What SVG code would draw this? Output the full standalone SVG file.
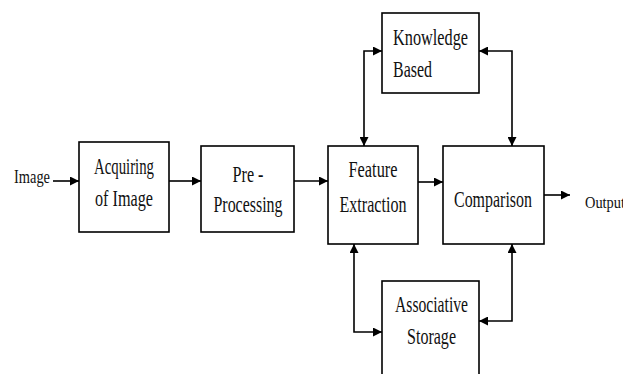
<svg xmlns="http://www.w3.org/2000/svg" width="623" height="374" viewBox="0 0 623 374">
<defs>
<style>
.box{fill:#fff;stroke:#000;stroke-width:1.6}
.lbl{font-family:"Liberation Serif","Times New Roman",serif;font-size:23px;fill:#111;text-anchor:middle}
.sm{font-family:"Liberation Serif","Times New Roman",serif;fill:#111}
.con{fill:none;stroke:#000;stroke-width:1.6;marker-end:url(#ah)}
.bi{marker-start:url(#ah)}
</style>
<marker id="ah" viewBox="0 0 10 10" refX="10" refY="5" markerWidth="9" markerHeight="9" markerUnits="userSpaceOnUse" orient="auto-start-reverse">
<path d="M0,0 L10,5 L0,10 z" fill="#000"/>
</marker>
</defs>
<rect width="623" height="374" fill="#fff"/>
<g id="connectors">
<path class="con" d="M53,181 H79"/>
<path class="con" d="M169,181 H201"/>
<path class="con" d="M294,181 H328"/>
<path class="con" d="M418,182 H443"/>
<path class="con" d="M544,195 H570"/>
<path class="con bi" d="M364,146 V51 H382"/>
<path class="con bi" d="M479,51 H512 V146"/>
<path class="con bi" d="M354,244 V332 H382"/>
<path class="con bi" d="M512,244 V321 H479"/>
</g>
<g id="image-label"><text class="sm" x="14" y="183" font-size="19" textLength="36" lengthAdjust="spacingAndGlyphs">Image</text></g>
<g id="acquiring">
<rect class="box" x="79" y="142" width="90" height="90"/>
<text class="lbl" x="124" y="174" textLength="60" lengthAdjust="spacingAndGlyphs">Acquiring</text>
<text class="lbl" x="124" y="206" textLength="58" lengthAdjust="spacingAndGlyphs">of Image</text>
</g>
<g id="preprocessing">
<rect class="box" x="201" y="146" width="93" height="86"/>
<text class="lbl" x="248" y="182" textLength="31" lengthAdjust="spacingAndGlyphs">Pre -</text>
<text class="lbl" x="248" y="212" textLength="69" lengthAdjust="spacingAndGlyphs">Processing</text>
</g>
<g id="feature">
<rect class="box" x="328" y="146" width="90" height="98"/>
<text class="lbl" x="373" y="177" textLength="49" lengthAdjust="spacingAndGlyphs">Feature</text>
<text class="lbl" x="373" y="212" textLength="67" lengthAdjust="spacingAndGlyphs">Extraction</text>
</g>
<g id="comparison">
<rect class="box" x="443" y="146" width="101" height="98"/>
<text class="lbl" x="493" y="207" textLength="78" lengthAdjust="spacingAndGlyphs">Comparison</text>
</g>
<g id="knowledge">
<rect class="box" x="382" y="13" width="97" height="80"/>
<text class="lbl" x="430.5" y="45" textLength="75" lengthAdjust="spacingAndGlyphs">Knowledge</text>
<text class="lbl" x="412.5" y="77" textLength="39" lengthAdjust="spacingAndGlyphs">Based</text>
</g>
<g id="associative">
<rect class="box" x="382" y="281" width="97" height="100"/>
<text class="lbl" x="431.5" y="312" textLength="73" lengthAdjust="spacingAndGlyphs">Associative</text>
<text class="lbl" x="431.5" y="344" textLength="49" lengthAdjust="spacingAndGlyphs">Storage</text>
</g>
<g id="output-label"><text class="sm" x="585" y="208" font-size="16" textLength="40" lengthAdjust="spacingAndGlyphs">Output</text></g>
</svg>
